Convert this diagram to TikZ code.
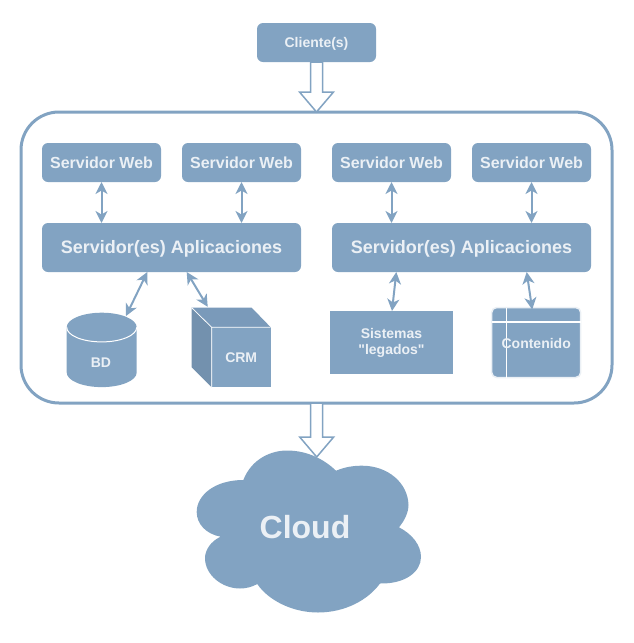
\documentclass[tikz,border=0pt]{standalone}
\usepackage{fontspec}
\setmainfont{Liberation Sans}[Ligatures=TeXOff]
\usepackage{tikz}
\usetikzlibrary{arrows.meta}
\usetikzlibrary{calc}
\definecolor{boxblue}{HTML}{82A3C2}
\definecolor{boxtop}{HTML}{7A9ABA}
\definecolor{boxside}{HTML}{7391AE}
\definecolor{boxtext}{HTML}{EBF0F5}
\def\px{0.75pt}
\tikzset{
  x=0.75pt, y=-0.75pt,
  every node/.style={inner sep=0pt, outer sep=0pt, font=\bfseries, text=boxtext, align=center},
  webbox/.style={fill=boxblue, rounded corners=6*\px, minimum width=119*\px, minimum height=39*\px, text height=8.6pt, text depth=0pt, font=\fontsize{12}{14}\bfseries},
  appbox/.style={fill=boxblue, rounded corners=6*\px, minimum width=259*\px, minimum height=49*\px, text height=9.7pt, text depth=0pt, font=\fontsize{13.5}{16}\bfseries},
  smalltxt/.style={font=\fontsize{10.5}{12}\bfseries},
  linkarrow/.style={draw=boxblue, line width=2*\px, {Stealth[length=12*\px,width=12*\px,inset=3.5*\px]}-{Stealth[length=12*\px,width=12*\px,inset=3.5*\px]}},
  blockarrow/.style={draw=boxblue, fill=white, line width=1.5*\px, to path={
    ($(\tikztostart)+(-6,0)$) -- ($(\tikztotarget)+(-6,-20)$) -- ($(\tikztotarget)+(-17,-20)$)
    -- (\tikztotarget) -- ($(\tikztotarget)+(17,-20)$) -- ($(\tikztotarget)+(6,-20)$)
    -- ($(\tikztostart)+(6,0)$) -- cycle}}
}
\begin{document}
\begin{tikzpicture}
\useasboundingbox (0,0) rectangle (633,643);
\node[webbox, smalltxt, text height=7.6pt] (client) at (316.5,42.5) {Cliente(s)};
\node[draw=boxblue, line width=3*\px, rounded corners=38*\px, minimum width=591*\px, minimum height=291*\px] (main) at (316.5,257.5) {};
\node[webbox] (weba) at (101.5,162.5) {Servidor Web};
\node[webbox] (webb) at (241.5,162.5) {Servidor Web};
\node[webbox] (webc) at (391.5,162.5) {Servidor Web};
\node[webbox] (webd) at (531.5,162.5) {Servidor Web};
\node[appbox] (appa) at (171.5,247.5) {Servidor(es) Aplicaciones};
\node[appbox] (appb) at (461.5,247.5) {Servidor(es) Aplicaciones};
% BD
\fill[boxblue] (66.7,327.3) .. controls (66.7,319.2) and (82.4,312.7) .. (101.7,312.7)
  .. controls (121,312.7) and (136.7,319.2) .. (136.7,327.3) -- (136.7,372.5)
  .. controls (136.7,380.6) and (121,387.1) .. (101.7,387.1)
  .. controls (82.4,387.1) and (66.7,380.6) .. (66.7,372.5) -- cycle;
\draw[white, line width=1*\px] (66.7,327.3) .. controls (66.7,335.4) and (82.4,341.9) .. (101.7,341.9)
  .. controls (121,341.9) and (136.7,335.4) .. (136.7,327.3);
\node[smalltxt] (bd) at (101,363) {BD};
% CRM
\fill[boxtop] (191.7,307.7) -- (251.7,307.7) -- (270.7,327.3) -- (211.7,327.3) -- cycle;
\fill[boxside] (191.7,307.7) -- (211.7,327.3) -- (211.7,387.3) -- (191.7,367.3) -- cycle;
\node[fill=boxblue, smalltxt, minimum width=59*\px, minimum height=60*\px] (crm) at (241.2,357.3) {CRM};
\draw[white, line width=0.75*\px] (191.7,307.7) -- (211.7,327.3) -- (270.7,327.3) (211.7,327.3) -- (211.7,387.3);
% sistemas y contenido
\node[fill=boxblue, smalltxt, minimum width=123*\px, minimum height=63*\px] (legacy) at (391.5,342.5) {Sistemas\\"legados"};
\node[fill=boxblue, draw=boxtext, line width=1.5*\px, rounded corners=5*\px, minimum width=89*\px, minimum height=70*\px] (content) at (536.2,342.5) {};
\draw[white, line width=1.2*\px] ($(content.north west)+(14.5,0)$) -- ($(content.south west)+(14.5,0)$)
  ($(content.north west)+(0,14.5)$) -- ($(content.north east)+(0,14.5)$);
\node[smalltxt] (contentlabel) at (536.2,343) {Contenido};
% cloud
\fill[boxblue] (243.3,480) .. controls (252,458) and (272,450.5) .. (287,450.5)
  .. controls (308,450.5) and (325,460) .. (336,470.7)
  .. controls (345,467) and (353,465.7) .. (362,465.7)
  .. controls (388,465.7) and (408,483) .. (408.5,505)
  .. controls (408.5,512) and (405,520) .. (399,527.3)
  .. controls (412,534) and (421,545) .. (421,557)
  .. controls (421,572) and (405,584) .. (380,583.5)
  .. controls (368,600) and (345,612.5) .. (318,612.5)
  .. controls (292,612.5) and (268,600) .. (257.3,584)
  .. controls (252,587) and (246,588.5) .. (240,588.5)
  .. controls (222,588.5) and (205,575) .. (205,558)
  .. controls (205,550) and (211,541) .. (220.7,536.7)
  .. controls (206,534) and (196.7,524) .. (196.7,512)
  .. controls (196.7,495) and (215,480) .. (243.3,480) -- cycle;
\node[font=\fontsize{24}{28}\bfseries] (cloud) at (305,527) {Cloud};
\coordinate (cloudtop) at (316.7,457);
% connectors
\draw[blockarrow] (client.south) to (main.north);
\draw[blockarrow] (main.south) to (cloudtop);
\draw[linkarrow] (weba.south) -- (weba.south |- appa.north);
\draw[linkarrow] (webb.south) -- (webb.south |- appa.north);
\draw[linkarrow] (webc.south) -- (webc.south |- appb.north);
\draw[linkarrow] (webd.south) -- (webd.south |- appb.north);
\draw[linkarrow] ($(appa.south west)+(105.3,0)$) -- ($(bd.center)+(25,-47)$);
\draw[linkarrow] ($(appa.south west)+(144.7,0)$) -- ($(crm.north west)+(-4,-20.5)$);
\draw[linkarrow] ($(appb.south west)+(64.3,0)$) -- ($(legacy.north)+(0.5,0)$);
\draw[linkarrow] ($(appb.south west)+(194.7,0)$) -- ($(content.north)+(-4,2)$);
\end{tikzpicture}
\end{document}
